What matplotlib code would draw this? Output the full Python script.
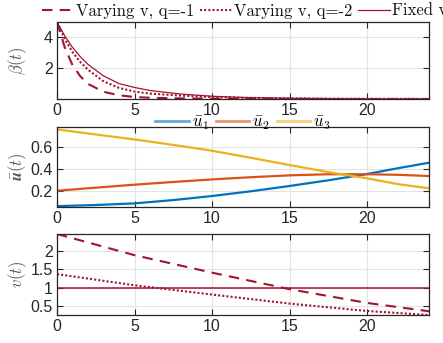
import matplotlib
matplotlib.use("Agg")
import matplotlib.pyplot as plt

plt.rcParams['mathtext.fontset'] = 'cm'
plt.rcParams['font.family'] = ['Liberation Sans', 'DejaVu Sans']

# ---- data ----
t_beta = [0, 0.5, 1, 1.5, 2, 3, 4, 5, 6, 8, 10, 12, 15, 18, 21, 24]
beta_q1 = [5, 3.35, 2.2, 1.48, 0.98, 0.47, 0.24, 0.13, 0.08, 0.04, 0.02, 0.01, 0.005, 0.0, 0.0, 0.0]
beta_q2 = [5, 3.9, 3.05, 2.4, 1.9, 1.15, 0.72, 0.48, 0.35, 0.22, 0.13, 0.08, 0.04, 0.02, 0.01, 0.005]
beta_fixed = [5, 4.1, 3.35, 2.75, 2.25, 1.5, 1.0, 0.75, 0.55, 0.32, 0.18, 0.1, 0.05, 0.02, 0.01, 0.005]

t_u = [0, 2.5, 5, 7.5, 10, 12.5, 15, 17.5, 20, 22, 24]
u1 = [0.06, 0.07, 0.085, 0.115, 0.152, 0.195, 0.243, 0.295, 0.352, 0.405, 0.455]
u2 = [0.2, 0.228, 0.255, 0.28, 0.303, 0.323, 0.34, 0.35, 0.35, 0.345, 0.334]
u3 = [0.758, 0.712, 0.667, 0.617, 0.564, 0.50, 0.434, 0.37, 0.313, 0.26, 0.222]

t_v = [0, 5, 10, 15, 20, 24]
v_q1 = [2.45, 1.88, 1.41, 0.965, 0.595, 0.37]
v_q2 = [1.37, 1.07, 0.82, 0.577, 0.378, 0.27]
v_fixed = [1.0, 1.0, 1.0, 1.0, 1.0, 1.0]

legend_labels = ['Varying v, q=-1', 'Varying v, q=-2', 'Fixed v']
u_labels = [r'$\bar{u}_1$', r'$\bar{u}_2$', r'$\bar{u}_3$']
xticks = [0, 5, 10, 15, 20]

red = '#A2142F'
ucols = ['#0072BD', '#D95319', '#EDB120']
axcol = '#262626'

fig = plt.figure(figsize=(4.43, 3.43), dpi=100)
W, H = 443, 343
def pos(l, t, r, b):
    return [l / W, 1 - b / H, (r - l) / W, (b - t) / H]

ax1 = fig.add_axes(pos(57, 22, 429, 99))
ax2 = fig.add_axes(pos(57, 127, 429, 207))
ax3 = fig.add_axes(pos(57, 234, 429, 315))

def style(ax):
    ax.set_xlim(0, 24)
    ax.set_xticks(xticks)
    ax.grid(True, color='#e3e3e3', linewidth=0.8)
    ax.set_axisbelow(True)
    for s in ax.spines.values():
        s.set_color(axcol)
        s.set_linewidth(0.9)
    ax.tick_params(direction='in', top=True, right=True, length=4, width=0.8,
                   colors=axcol, labelsize=11.5, pad=3)
    ax.yaxis.set_label_coords(-0.075, 0.5)

l1, = ax1.plot(t_beta, beta_q1, color=red, ls=(0, (5, 3.5)), lw=1.5)
l2, = ax1.plot(t_beta, beta_q2, color=red, ls=(0, (1, 1)), lw=1.5)
l3, = ax1.plot(t_beta, beta_fixed, color=red, ls='-', lw=0.9)
ax1.set_ylim(0, 5)
ax1.set_yticks([2, 4])
ax1.set_ylabel(r'$\beta(t)$', fontsize=12, color='#555555')
style(ax1)
leg1 = fig.legend([l1, l2, l3], legend_labels, loc='center left', bbox_to_anchor=(42 / W, 1 - 11 / H),
                  ncol=3, frameon=False, prop={'family': 'cmr10', 'size': 12},
                  handlelength=1.95, handletextpad=0.08,
                  columnspacing=0.35, borderaxespad=0, borderpad=0)
for tx in leg1.get_texts():
    tx.set_color('#111111')

hs = []
for y, c in zip([u1, u2, u3], ucols):
    h, = ax2.plot(t_u, y, color=c, lw=1.6)
    hs.append(h)
ax2.set_ylim(0.052, 0.78)
ax2.set_yticks([0.2, 0.4, 0.6])
ax2.set_ylabel(r'$\bar{\boldsymbol{u}}(t)$', fontsize=12, color='#555555')
style(ax2)
leg2 = ax2.legend(hs, u_labels, loc='center', bbox_to_anchor=(0.5, 1.05), ncol=3,
                  frameon=False, fontsize=12, handlelength=2.0, handletextpad=0.2,
                  columnspacing=0.4, borderpad=0, borderaxespad=0)
for lh in leg2.get_lines():
    lh.set_alpha(0.6)
    lh.set_linewidth(2)

ax3.plot(t_v, v_q1, color=red, ls=(0, (5, 3.5)), lw=1.5)
ax3.plot(t_v, v_q2, color=red, ls=(0, (1, 1)), lw=1.5)
ax3.plot(t_v, v_fixed, color=red, ls='-', lw=1.1)
ax3.set_ylim(0.27, 2.45)
ax3.set_yticks([0.5, 1, 1.5, 2])
ax3.set_yticklabels(['0.5', '1', '1.5', '2'])
ax3.set_ylabel(r'$v(t)$', fontsize=12, color='#555555')
style(ax3)

fig.savefig('out.png', dpi=100)
